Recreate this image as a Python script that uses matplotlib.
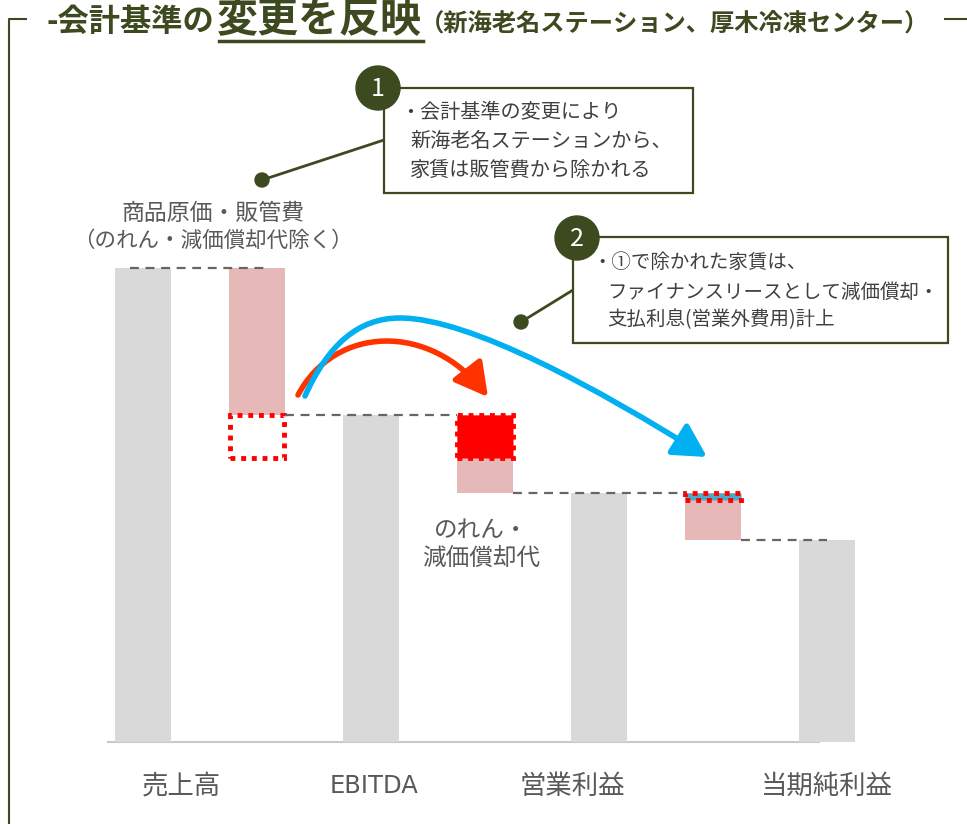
import matplotlib
matplotlib.use('Agg')
import matplotlib.pyplot as plt
import numpy as np
from matplotlib.patches import Rectangle, Circle, FancyArrowPatch
from matplotlib.path import Path

plt.rcParams['font.family'] = ['Noto Sans CJK JP', 'DejaVu Sans']

# waterfall values (sales = 100)
categories = ['売上高', '商品原価・販管費', 'EBITDA', 'のれん・減価償却代', '営業利益', '営業外費用', '当期純利益']
x_labels = ['売上高', 'EBITDA', '営業利益', '当期純利益']
sales = 100
cost_sga = 31
ebitda = 69
depreciation = 16.5
operating = 52.5
non_operating = 10
net = 42.5
rent_moved = 9          # rent removed from SG&A, now lease depreciation
lease_interest = 1.5    # rent part booked as interest

OLIVE = '#3d4a1f'
GRAY_BAR = '#d9d9d9'
PINK = '#e6b9b8'
TXT = '#595959'

fig = plt.figure(figsize=(9.67, 8.24), dpi=100)

# bar axes: data units mapped onto the picture
ax = fig.add_axes([0, 0, 1, 1])
ax.set_xlim(-1.254, 7.228)
ax.set_ylim(-17.3, 156.5)
ax.axis('off')

w = 0.49
x = np.arange(len(categories))
totals = [sales, ebitda, operating, net]
ax.bar(x[[0, 2, 4, 6]], totals, width=w, color=GRAY_BAR, zorder=2)

# deltas (floating bars)
delta_tops = [sales, ebitda, operating]
delta_sizes = [cost_sga, depreciation, non_operating]
ax.bar(x[[1, 3, 5]], delta_sizes, bottom=np.array(delta_tops) - np.array(delta_sizes),
       width=w, color=PINK, zorder=2)

# rent moved out of SG&A (empty dotted box) and into depreciation (red box)
dotted = dict(edgecolor='red', linewidth=3.5, linestyle=(0, (1, 1.2)), zorder=3)
ax.bar(x[1], rent_moved, bottom=ebitda - rent_moved, width=w * 0.98, facecolor='none', **dotted)
ax.bar(x[3], rent_moved, bottom=ebitda - rent_moved, width=w, facecolor='red', **dotted)
ax.bar(x[5], lease_interest, bottom=operating - lease_interest, width=w, facecolor='#4aaac8', **dotted)

# connectors
dash = dict(color='#666666', linewidth=1.6, linestyle=(0, (4, 3)), zorder=4)
ax.plot([x[0] - 0.11, x[1] + 0.1], [sales, sales], **dash)
ax.plot([x[1] + w / 2, x[3] - w / 2], [ebitda, ebitda], **dash)
ax.plot([x[3] + w / 2, x[5] - w / 2], [operating, operating], **dash)
ax.plot([x[5] + w / 2, x[6]], [net, net], **dash)

# baseline
ax.plot([x[0] - 0.31, x[6] - 0.07], [0, 0], color='#c8c8c8', linewidth=1.5, zorder=1)

# category labels (slightly off-centre as in the original slide)
label_shift = [0.34, 0.03, -0.23, 0.0]
for xi, lab, s in zip(x[[0, 2, 4, 6]], x_labels, label_shift):
    fam = ['DejaVu Sans'] if lab == 'EBITDA' else None
    ax.text(xi + s, -9.3, lab, ha='center', va='center', fontsize=19 if fam is None else 17.5,
            color=TXT, family=fam)

# overlay in pixel coordinates for annotations
ov = fig.add_axes([0, 0, 1, 1])
ov.set_xlim(0, 967)
ov.set_ylim(824, 0)
ov.axis('off')
ov.patch.set_alpha(0)

# frame
ov.plot([9, 9, 26], [824, 19, 19], color=OLIVE, linewidth=1.5)
ov.plot([945, 967], [19, 19], color=OLIVE, linewidth=1.5)

# title
ov.text(47, 22, '-会計基準の', fontsize=22.5, fontweight='bold', color=OLIVE, ha='left', va='center')
ov.text(217, 20, '変更を反映', fontsize=29.5, fontweight='bold', color=OLIVE, ha='left', va='center')
ov.plot([219, 423], [41, 41], color=OLIVE, linewidth=2.5)
ov.text(420, 25, '（新海老名ステーション、厚木冷凍センター）', fontsize=17.5, fontweight='bold',
        color=OLIVE, ha='left', va='center')

# labels near deltas
ov.text(213, 213, '商品原価・販管費', fontsize=16.5, color=TXT, ha='center', va='center')
ov.text(213, 241, '（のれん・減価償却代除く）', fontsize=15.5, color=TXT, ha='center', va='center')
ov.text(481, 530, 'のれん・', fontsize=17, color=TXT, ha='center', va='center')
ov.text(481, 558, '減価償却代', fontsize=17, color=TXT, ha='center', va='center')


def callout(num, cx, cy, box, lines, line_x, dot, size):
    bx, by, bw, bh = box
    ov.plot([dot[0], bx], [dot[1], line_x], color=OLIVE, linewidth=2, zorder=5)
    ov.add_patch(Circle(dot, 7, color=OLIVE, zorder=6))
    ov.add_patch(Rectangle((bx, by), bw, bh, facecolor='white', edgecolor=OLIVE,
                           linewidth=1.6, zorder=5))
    ov.add_patch(Circle((cx, cy), 22, color=OLIVE, zorder=6))
    ov.text(cx, cy + 1, num, fontsize=18, color='white', ha='center', va='center', zorder=7)
    for tx, ty, t in lines:
        ov.text(tx, ty, t, fontsize=size, color='#404040', ha='left', va='center', zorder=7)


callout('1', 378, 88, (384, 88, 309, 105),
        [(400, 112, '・会計基準の変更により'),
         (410, 141, '新海老名ステーションから、'),
         (410, 170, '家賃は販管費から除かれる')],
        140, (262, 180), 14.5)

callout('2', 577, 238, (573, 237, 375, 106),
        [(592, 262, '・①で除かれた家賃は、'),
         (607, 292, 'ファイナンスリースとして減価償却・'),
         (607, 320, '支払利息(営業外費用)計上')],
        290, (521, 322), 14)

# arrows
head = '-|>,head_length=20,head_width=11'
red_path = Path([(298, 395), (335, 325), (430, 322), (488, 397)],
                [Path.MOVETO, Path.CURVE4, Path.CURVE4, Path.CURVE4])
ov.add_patch(FancyArrowPatch(path=red_path, arrowstyle=head,
                             color='#ff3300', linewidth=4, mutation_scale=1, zorder=8))
blue_path = Path([(305, 396), (328, 345), (358, 318), (400, 318),
                  (470, 318), (600, 390), (707, 457)],
                 [Path.MOVETO, Path.CURVE4, Path.CURVE4, Path.CURVE4,
                  Path.CURVE4, Path.CURVE4, Path.CURVE4])
ov.add_patch(FancyArrowPatch(path=blue_path, arrowstyle=head,
                             color='#00b0f0', linewidth=4, mutation_scale=1, zorder=8))

fig.savefig('out.png', dpi=100)
